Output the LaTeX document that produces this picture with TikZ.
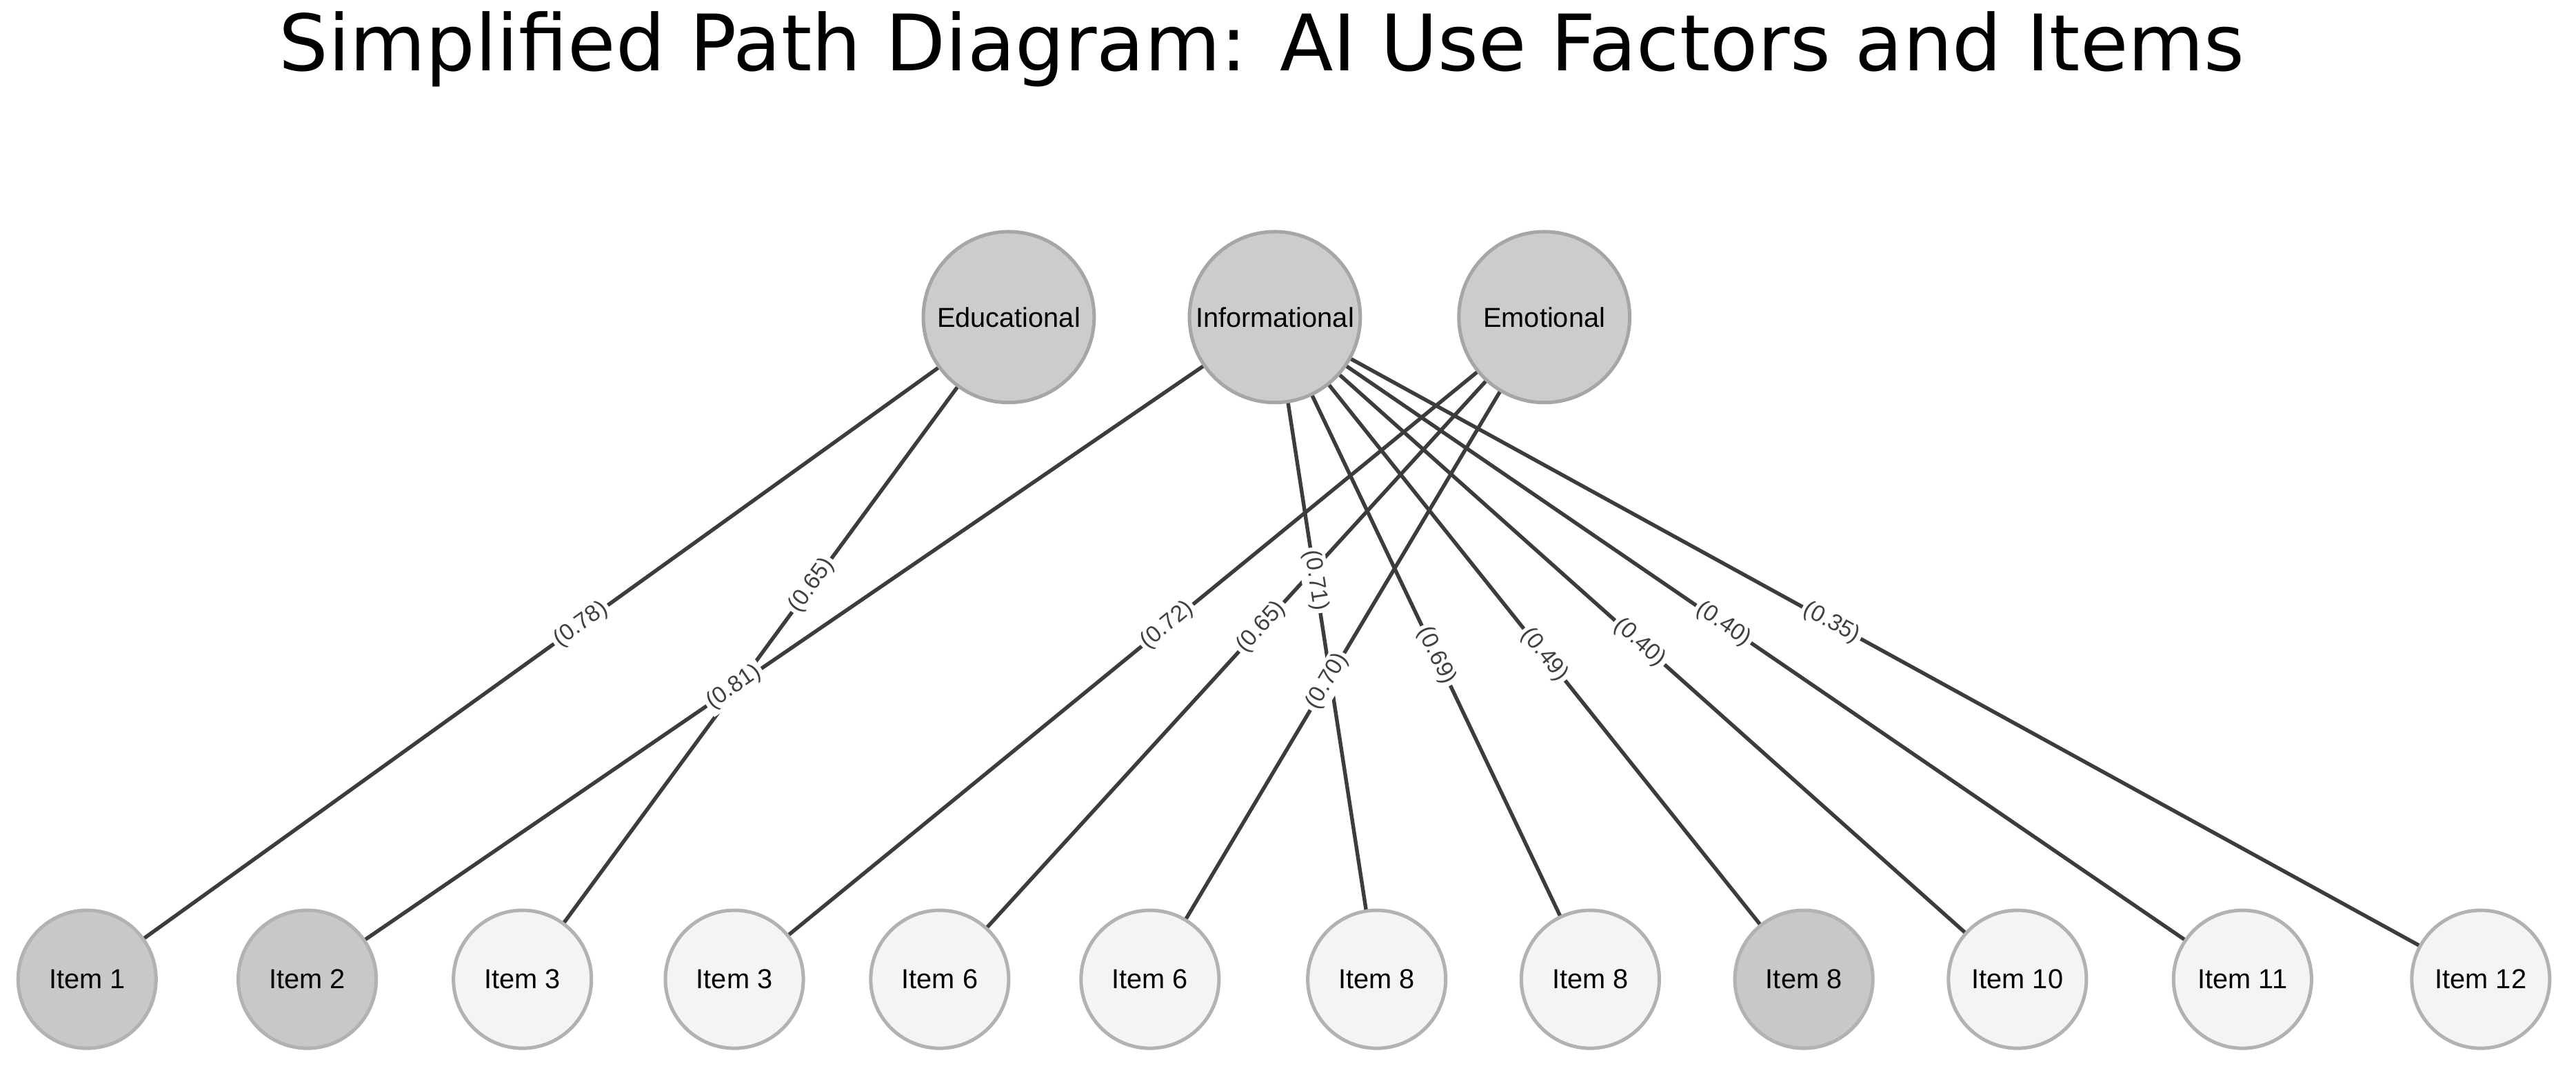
\documentclass[tikz,border=0pt]{standalone}
\usepackage{fontspec}
\setmainfont{Liberation Sans}
\newfontfamily\titlefont{DejaVu Sans}
\usetikzlibrary{positioning}
\definecolor{factorfill}{HTML}{CCCCCC}
\definecolor{itemfill}{HTML}{F4F4F4}
\definecolor{itemdark}{HTML}{C8C8C8}
\definecolor{edgecol}{HTML}{3C3C3C}
\tikzset{
  factor/.style={circle, draw=gray!70, line width=1.2pt, fill=factorfill, minimum size=2.08cm, inner sep=0pt, font=\fontsize{9.5}{11}\selectfont},
  item/.style={circle, draw=gray!60, line width=1.2pt, fill=itemfill, minimum size=1.68cm, inner sep=0pt, font=\fontsize{9.5}{11}\selectfont},
  itemdk/.style={item, fill=itemdark},
  path/.style={draw=edgecol, line width=1.3pt},
  load/.style={sloped, fill=white, inner sep=1pt, text=black!75, font=\fontsize{8}{9}\selectfont}
}
\begin{document}
\begin{tikzpicture}[x=0.02cm, y=-0.02cm]
	\useasboundingbox (0,0) rectangle (1568,653);
	
	% Title
	\node[font=\titlefont\fontsize{27}{31}\selectfont] (title) at (768,30) {Simplified Path Diagram: AI Use Factors and Items};
	
	% Factors
	\node[factor] (edu) at (614,193) {Educational};
	\node[factor] (inf) at (776,193) {Informational};
	\node[factor] (emo) at (940,193) {Emotional};
	
	% Items
	\node[itemdk] (i1) at (53,596) {Item 1};
	\node[itemdk] (i2) at (187,596) {Item 2};
	\node[item] (i3) at (318,596) {Item 3};
	\node[item] (i3b) at (447,596) {Item 3};
	\node[item] (i6) at (572,596) {Item 6};
	\node[item] (i6b) at (700,596) {Item 6};
	\node[item] (i8) at (838,596) {Item 8};
	\node[item] (i8b) at (968,596) {Item 8};
	\node[itemdk] (i8c) at (1098,596) {Item 8};
	\node[item] (i10) at (1228,596) {Item 10};
	\node[item] (i11) at (1365,596) {Item 11};
	\node[item] (i12) at (1510,596) {Item 12};
	
	% Loadings
	\draw[path] (edu) -- node[load, pos=.45] {(0.78)} (i1);
	\draw[path] (edu) -- node[load, pos=.37] {(0.65)} (i3);
	\draw[path] (inf) -- node[load, pos=.56] {(0.81)} (i2);
	\draw[path] (emo) -- node[load, pos=.45] {(0.72)} (i3b);
	\draw[path] (emo) -- node[load, pos=.45] {(0.65)} (i6);
	\draw[path] (inf) -- node[load, pos=.35] {(0.71)} (i8);
	\draw[path] (emo) -- node[load, pos=.55] {(0.70)} (i6b);
	\draw[path] (inf) -- node[load, pos=.5] {(0.69)} (i8b);
	\draw[path] (inf) -- node[load, pos=.5] {(0.49)} (i8c);
	\draw[path] (inf) -- node[load, pos=.48] {(0.40)} (i10);
	\draw[path] (inf) -- node[load, pos=.45] {(0.40)} (i11);
	\draw[path] (inf) -- node[load, pos=.45] {(0.35)} (i12);
	
\end{tikzpicture}
\end{document}
